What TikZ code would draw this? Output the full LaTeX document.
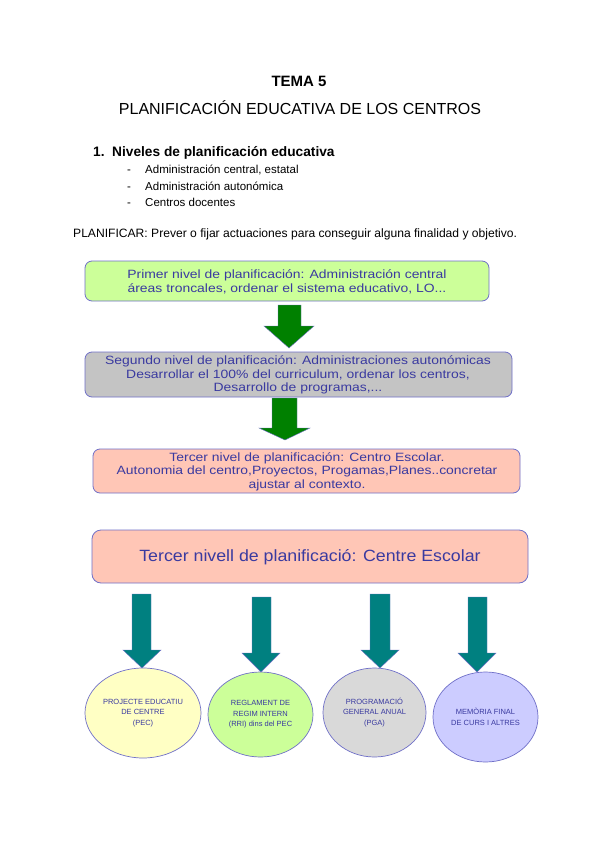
\documentclass[tikz,border=0pt]{standalone}
\usepackage{fontspec}
\setmainfont{Liberation Sans}
\newfontfamily\widefont[FakeStretch=1.16]{Liberation Sans}
\newfontfamily\midwide[FakeStretch=1.09]{Liberation Sans}
\usetikzlibrary{shapes.geometric}
\definecolor{boxline}{HTML}{7070C8}
\definecolor{boxtext}{HTML}{3A3AA0}
\definecolor{fgreen}{HTML}{CCFF99}
\definecolor{fgrey}{HTML}{C4C4C4}
\definecolor{fsalmon}{HTML}{FFC6B6}
\definecolor{fyellow}{HTML}{FFFFC4}
\definecolor{fegrey}{HTML}{D9D9D9}
\definecolor{flilac}{HTML}{CCCCFF}
\definecolor{arrgreen}{HTML}{008000}
\definecolor{arrteal}{HTML}{008080}
\tikzset{
  levelbox/.style={draw=boxline, line width=0.8pt, rounded corners=7pt},
  boxlabel/.style={text=boxtext, align=center, inner sep=0pt, font=\widefont\fontsize{12}{13.5}\selectfont},
  docel/.style={ellipse, draw=boxline, line width=0.7pt, inner sep=0pt, text=boxtext, align=center, font=\fontsize{7.5}{10.5}\selectfont},
  blockarrow/.style={draw=boxline, line width=0.4pt},
  plain/.style={inner sep=0pt, anchor=base west}
}
\begin{document}
\begin{tikzpicture}[x=1pt,y=-1pt]
\useasboundingbox[fill=white] (0,0) rectangle (600,848);
% header texts
\node[inner sep=0pt, anchor=base, font=\fontsize{15}{17}\selectfont\bfseries] (tema) at (299,87) {TEMA 5};
\node[inner sep=0pt, anchor=base, font=\fontsize{16}{18}\selectfont] (titulo) at (300,114) {PLANIFICACIÓN EDUCATIVA DE LOS CENTROS};
\node[plain, font=\fontsize{13.7}{15}\selectfont\bfseries] (sec) at (93,156) {1.\ \ Niveles de planificación educativa};
\node[plain, font=\fontsize{11.5}{13}\selectfont] (d1) at (127,173) {-};
\node[plain, font=\fontsize{11.5}{13}\selectfont] (i1) at (145,173) {Administración central, estatal};
\node[plain, font=\fontsize{11.5}{13}\selectfont] (d2) at (127,190) {-};
\node[plain, font=\fontsize{11.5}{13}\selectfont] (i2) at (145,190) {Administración autonómica};
\node[plain, font=\fontsize{11.5}{13}\selectfont] (d3) at (127,206) {-};
\node[plain, font=\fontsize{11.5}{13}\selectfont] (i3) at (145,206) {Centros docentes};
\node[plain, font=\fontsize{12.1}{13}\selectfont] (def) at (73,237) {PLANIFICAR: Prever o fijar actuaciones para conseguir alguna finalidad y objetivo.};
% level boxes
\draw[levelbox, fill=fgreen] (85,261) rectangle (489,301);
\node[boxlabel] (b1) at (287,282) {Primer nivel de planificación: Administración central\\áreas troncales, ordenar el sistema educativo, LO...};
\draw[levelbox, fill=fgrey] (85,352) rectangle (512,397);
\node[boxlabel] (b2) at (298,375) {Segundo nivel de planificación: Administraciones autonómicas\\Desarrollar el 100\% del curriculum, ordenar los centros,\\Desarrollo de programas,...};
\draw[levelbox, fill=fsalmon] (93,449) rectangle (520,493);
\node[boxlabel] (b3) at (307,471.5) {Tercer nivel de planificación: Centro Escolar.\\Autonomia del centro,Proyectos, Progamas,Planes..concretar\\ajustar al contexto.};
\draw[levelbox, fill=fsalmon, rounded corners=9pt] (92,530) rectangle (528,583);
\node[text=boxtext, font=\midwide\fontsize{16.3}{18}\selectfont, inner sep=0pt] (b4) at (310,557) {Tercer nivell de planificació: Centre Escolar};
% green block arrows
\draw[blockarrow, fill=arrgreen] (278,305) -- (301,305) -- (301,326) -- (314,326) -- (289,348) -- (264,326) -- (278,326) -- cycle;
\draw[blockarrow, fill=arrgreen] (272,398) -- (297,398) -- (297,428) -- (310,428) -- (285,440) -- (259,428) -- (272,428) -- cycle;
% teal block arrows
\draw[blockarrow, fill=arrteal] (132,594) -- (151,594) -- (151,650) -- (161,650) -- (142,668) -- (123,650) -- (132,650) -- cycle;
\draw[blockarrow, fill=arrteal] (252,597) -- (271,597) -- (271,653) -- (280,653) -- (261,672) -- (242,653) -- (252,653) -- cycle;
\draw[blockarrow, fill=arrteal] (370,594) -- (390,594) -- (390,650) -- (399,650) -- (380,668) -- (361,650) -- (370,650) -- cycle;
\draw[blockarrow, fill=arrteal] (468,597) -- (487,597) -- (487,653) -- (496,653) -- (477,672) -- (458,653) -- (468,653) -- cycle;
% ellipses
\node[docel, fill=fyellow, minimum width=116pt, minimum height=90pt] (pec) at (143,713) {PROJECTE EDUCATIU\\DE CENTRE\\(PEC)};
\node[docel, fill=fgreen, minimum width=105pt, minimum height=85pt] (rri) at (260.5,714.5) {REGLAMENT DE\\REGIM INTERN\\(RRI) dins del PEC};
\node[docel, fill=fegrey, minimum width=103pt, minimum height=89pt] (pga) at (374.5,712.5) {PROGRAMACIÓ\\GENERAL ANUAL\\(PGA)};
\node[docel, fill=flilac, minimum width=105pt, minimum height=90pt] (mem) at (485.5,717) {MEMÒRIA FINAL\\DE CURS I ALTRES};
\end{tikzpicture}
\end{document}
